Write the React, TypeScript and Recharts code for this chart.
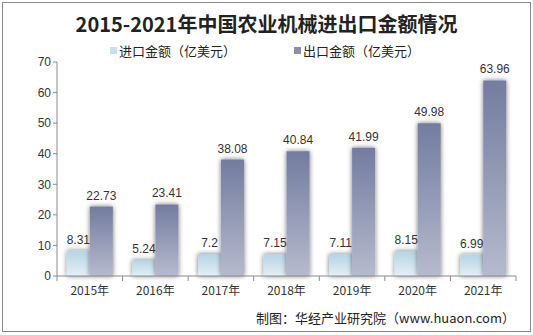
import React from "react";
import { BarChart, Bar, XAxis, YAxis, LabelList, Rectangle } from "recharts";

const years = ["2015年", "2016年", "2017年", "2018年", "2019年", "2020年", "2021年"];
const importValues = [8.31, 5.24, 7.2, 7.15, 7.11, 8.15, 6.99];
const exportValues = [22.73, 23.41, 38.08, 40.84, 41.99, 49.98, 63.96];
const yTicks = [0, 10, 20, 30, 40, 50, 60, 70];

const data = years.map((year, i) => ({
  year,
  import: importValues[i],
  export: exportValues[i],
}));

const W = 533;
const H = 335;
const xAxisHeight = 30;
const margin = { top: 62, right: 17, bottom: 59 - xAxisHeight, left: 0 };
const yAxisWidth = 57;
const plotWidth = W - margin.left - margin.right - yAxisWidth;
const band = plotWidth / years.length;

const font = "'Liberation Sans', Arial, sans-serif";
const cjk = "'Noto Sans CJK SC', 'Liberation Sans', sans-serif";

const ShadowBar = (props: any) => <Rectangle {...props} filter="url(#barShadow)" />;

const XTick = (props: any) => {
  const { x, y, payload, index } = props;
  return (
    <g>
      <line x1={x - band / 2} y1={y - 8} x2={x - band / 2} y2={y - 3} stroke="#8a8a8a" />
      {index === years.length - 1 && (
        <line x1={x + band / 2} y1={y - 8} x2={x + band / 2} y2={y - 3} stroke="#8a8a8a" />
      )}
      <text x={x} y={y + 11} textAnchor="middle" fontSize={12} fill="#333" fontFamily={cjk}>
        {payload.value}
      </text>
    </g>
  );
};

const App: React.FC = () => {
  return (
    <div
      style={{
        position: "fixed",
        left: 0,
        top: 0,
        width: W,
        height: H,
        background: "#fff",
      }}
    >
      <div
        style={{
          position: "absolute",
          left: 2,
          top: 2,
          width: 527,
          height: 328,
          border: "1px solid #888",
        }}
      />
      <div
        style={{
          position: "absolute",
          left: 0,
          top: 9,
          width: W,
          textAlign: "center",
          fontFamily: cjk,
          fontWeight: "bold",
          fontSize: 20,
          color: "#222",
        }}
      >
        2015-2021年中国农业机械进出口金额情况
      </div>
      <div
        style={{
          position: "absolute",
          top: 41,
          left: 110,
          fontFamily: cjk,
          fontSize: 13,
          color: "#222",
          display: "flex",
          alignItems: "center",
        }}
      >
        <span style={{ width: 7, height: 7, background: "#c9e0ec", marginRight: 2 }} />
        <span>进口金额（亿美元）</span>
        <span style={{ width: 7, height: 7, background: "#8a90ac", marginLeft: 58, marginRight: 2 }} />
        <span>出口金额（亿美元）</span>
      </div>
      <div style={{ position: "absolute", left: 0, top: 0 }}>
        <BarChart
          width={W}
          height={H}
          data={data}
          margin={margin}
          barCategoryGap="15%"
          barGap={0}
        >
          <defs>
            <linearGradient id="importGrad" x1="0" y1="0" x2="0" y2="1">
              <stop offset="0%" stopColor="#b5d4e4" />
              <stop offset="100%" stopColor="#e4f0f6" />
            </linearGradient>
            <linearGradient id="exportGrad" x1="0" y1="0" x2="0" y2="1">
              <stop offset="0%" stopColor="#737c9f" />
              <stop offset="100%" stopColor="#b6bacd" />
            </linearGradient>
            <filter id="barShadow" x="-40%" y="-20%" width="180%" height="140%">
              <feDropShadow dx="0" dy="0" stdDeviation="2.5" floodColor="#000" floodOpacity="0.55" />
            </filter>
          </defs>
          <XAxis
            dataKey="year"
            height={xAxisHeight}
            axisLine={{ stroke: "#8a8a8a" }}
            tickLine={false}
            tick={<XTick />}
            interval={0}
          />
          <YAxis
            width={yAxisWidth}
            domain={[0, 70]}
            ticks={yTicks}
            interval={0}
            axisLine={{ stroke: "#8a8a8a" }}
            tickLine={{ stroke: "#8a8a8a" }}
            tickSize={4}
            tick={{ fill: "#333", fontSize: 12, fontFamily: font }}
          />
          <Bar
            dataKey="import"
            fill="url(#importGrad)"
            shape={<ShadowBar />}
            isAnimationActive={false}
          >
            <LabelList
              dataKey="import"
              position="top"
              offset={7}
              fill="#333"
              fontSize={12}
              fontFamily={font}
            />
          </Bar>
          <Bar
            dataKey="export"
            fill="url(#exportGrad)"
            shape={<ShadowBar />}
            isAnimationActive={false}
          >
            <LabelList
              dataKey="export"
              position="top"
              offset={7}
              fill="#333"
              fontSize={12}
              fontFamily={font}
            />
          </Bar>
        </BarChart>
      </div>
      <div
        style={{
          position: "absolute",
          right: 18,
          top: 308,
          fontFamily: cjk,
          fontSize: 13,
          color: "#222",
        }}
      >
        制图：华经产业研究院（www.huaon.com）
      </div>
    </div>
  );
};

export default App;
